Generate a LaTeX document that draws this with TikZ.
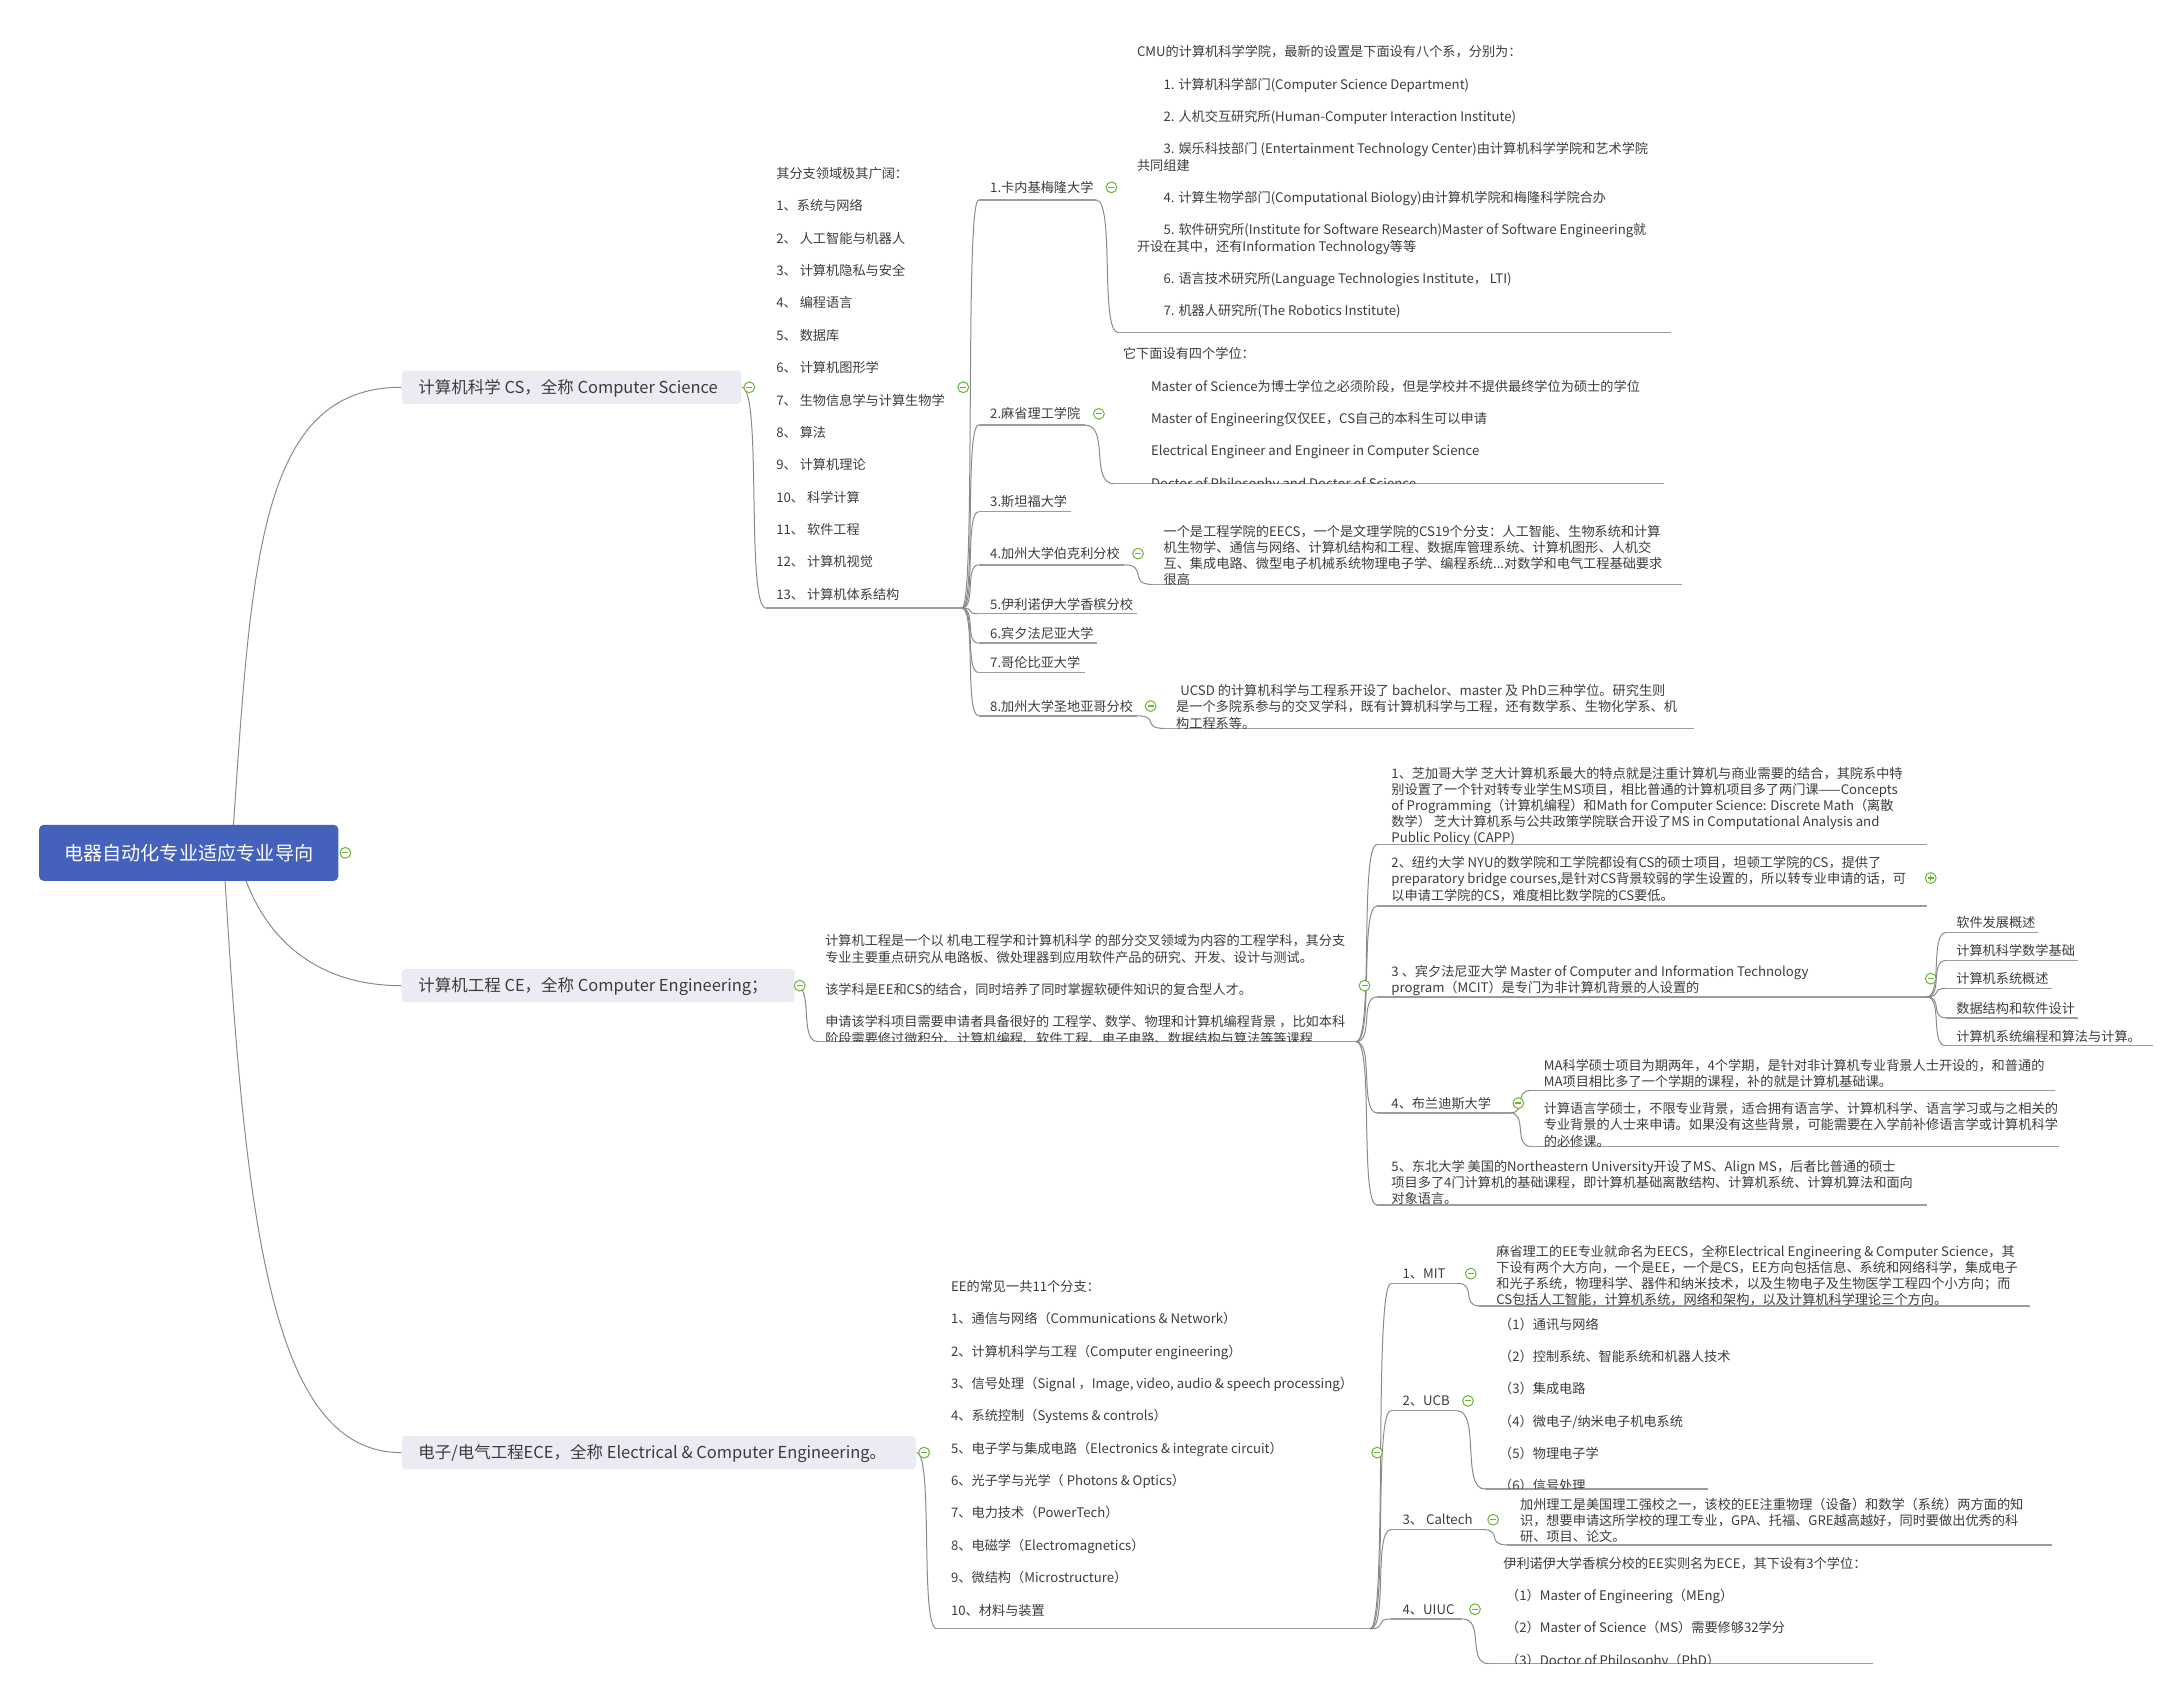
\documentclass[tikz,border=0pt]{standalone}
\usepackage{fontspec}
\newfontfamily\cjk{Noto Sans CJK SC}
\usetikzlibrary{calc}
\definecolor{txtc}{HTML}{3C3C3C}
\definecolor{linec}{HTML}{8A8A8A}
\definecolor{ulc}{HTML}{9C9C9C}
\definecolor{boxc}{HTML}{EBEBF3}
\definecolor{rootc}{HTML}{4461BB}
\definecolor{markc}{HTML}{6AB534}
\tikzset{
  txt/.style={anchor=base west, inner sep=0pt, font=\cjk\fontsize{6.6}{8}\selectfont, text=txtc},
  headtxt/.style={anchor=base west, inner sep=0pt, font=\cjk\fontsize{8.25}{10}\selectfont, text=txtc},
  conline/.style={draw=linec, line width=0.5pt},
  ulline/.style={draw=ulc, line width=0.7pt},
  branchbox/.style={anchor=west, fill=boxc, rounded corners=2pt, inner sep=0pt, minimum height=16.8pt},
  rootbox/.style={fill=rootc, rounded corners=2.2pt, inner sep=0pt, minimum width=149.8pt,
    minimum height=28pt, font=\cjk\fontsize{9.6}{11}\selectfont, text=white,
    text height=8pt, text depth=0.7pt},
  colmark/.style={circle, draw=markc, fill=white, line width=0.5pt, minimum size=5.4pt, inner sep=0pt,
    path picture={\draw[markc, line width=0.6pt] ([xshift=-1.5pt]path picture bounding box.center) -- ([xshift=1.5pt]path picture bounding box.center);}},
  expmark/.style={circle, draw=markc, fill=white, line width=0.5pt, minimum size=5.4pt, inner sep=0pt,
    path picture={\draw[markc, line width=0.6pt] ([xshift=-1.5pt]path picture bounding box.center) -- ([xshift=1.5pt]path picture bounding box.center) ([yshift=-1.5pt]path picture bounding box.center) -- ([yshift=1.5pt]path picture bounding box.center);}},
}
% text block: name, x, y of first line centre, list of dx/dy/{text}
\newcommand\para[4]{%
  \foreach \dx/\dy/\tx [count=\i] in {#4} {%
    \node[txt] (#1-\i) at ({#2+\dx}, {#3+\dy*11.58+3.6}) {\tx};
  }%
}
% underline: name, x1, x2, y
\newcommand\ul[4]{%
  \coordinate (#1-s) at (#2,#4);
  \coordinate (#1-e) at (#3,#4);
  \draw[ulline] (#1-s) -- (#1-e);
}
\newcommand\conn[2]{%
  \draw[conline] let \p1=(#1), \p2=(#2) in (\p1) .. controls ({\x1+0.85*(\x2-\x1)},\y1) and ({\x1+0.15*(\x2-\x1)},\y2) .. (\p2);
}
\begin{document}
\begin{tikzpicture}[x=0.7pt, y=-0.7pt]
\useasboundingbox (0,0) rectangle (1550,1205);

% ---------- main nodes ----------
\node[rootbox] (root) at (135,610) {电器自动化专业适应专业导向};
\node[branchbox, minimum width=170.1pt] (cs) at (287,277) {};
\node[branchbox, minimum width=196.7pt] (ce) at (287,705) {};
\node[branchbox, minimum width=257.6pt] (ee) at (287,1039) {};
\node[headtxt] (cs-t) at (299,281.5) {计算机科学 CS，全称 Computer Science};
\node[headtxt] (ce-t) at (299,709.5) {计算机工程 CE，全称 Computer Engineering；};
\node[headtxt] (ee-t) at (299,1043.5) {电子/电气工程ECE，全称 Electrical \& Computer Engineering。};

\coordinate (r1) at (167,590);
\coordinate (r2) at (176,630);
\coordinate (r3) at (161,630);
\draw[conline] (r1) .. controls (180,400) and (186,277) .. (cs.west);
\draw[conline] (r2) .. controls (195,680) and (235,705) .. (ce.west);
\draw[conline] (r3) .. controls (176,880) and (195,1039) .. (ee.west);

% ---------- underlines ----------
\ul{csl}{548}{688}{435}
\ul{u1}{700}{784}{143}
\ul{u2}{700}{776}{304}
\ul{u3}{700}{766}{366}
\ul{u4}{700}{804}{404}
\ul{u5}{700}{813}{439}
\ul{u6}{700}{785}{460}
\ul{u7}{700}{776}{481}
\ul{u8}{700}{813}{512}
\ul{cmu}{800}{1195}{238}
\ul{mitc}{797}{1190}{346}
\ul{ucbc}{824}{1203}{418}
\ul{ucsdc}{833}{1212}{521}

\ul{cec}{585}{970}{745}
\ul{chi}{985}{1378}{604}
\ul{nyu}{985}{1378}{648}
\ul{penn}{985}{1378}{713}
\ul{bra}{985}{1080}{796}
\ul{neu}{985}{1378}{862}
\ul{p1}{1392}{1458}{667}
\ul{p2}{1392}{1486}{687}
\ul{p3}{1392}{1468}{707}
\ul{p4}{1392}{1486}{728}
\ul{p5}{1392}{1540}{748}
\ul{ma}{1095}{1470}{780}
\ul{cl}{1095}{1473}{820}

\ul{eel}{670}{980}{1165}
\ul{e1}{995}{1043}{918}
\ul{e2}{995}{1042}{1009}
\ul{e3}{995}{1060}{1094}
\ul{e4}{995}{1046}{1158}
\ul{mee}{1058}{1452}{934}
\ul{ucbe}{1062}{1222}{1065}
\ul{calc}{1078}{1468}{1105}
\ul{uiuc}{1065}{1340}{1190}

% ---------- connectors ----------
\conn{cs.east}{csl-s}
\foreach \k in {u1,u2,u3,u4,u5,u6,u7,u8} {\conn{csl-e}{\k-s}}
\conn{u1-e}{cmu-s}
\conn{u2-e}{mitc-s}
\conn{u4-e}{ucbc-s}
\conn{u8-e}{ucsdc-s}

\conn{ce.east}{cec-s}
\foreach \k in {chi,nyu,penn,bra,neu} {\conn{cec-e}{\k-s}}
\foreach \k in {p1,p2,p3,p4,p5} {\conn{penn-e}{\k-s}}
\conn{bra-e}{ma-s}
\conn{bra-e}{cl-s}

\conn{ee.east}{eel-s}
\foreach \k in {e1,e2,e3,e4} {\conn{eel-e}{\k-s}}
\conn{e1-e}{mee-s}
\conn{e2-e}{ucbe-s}
\conn{e3-e}{calc-s}
\conn{e4-e}{uiuc-s}

% ---------- CS texts ----------
\para{csl}{555}{124}{0/0/{其分支领域极其广阔：},0/2/{1、系统与网络},0/4/{2、 人工智能与机器人},0/6/{3、 计算机隐私与安全},0/8/{4、 编程语言},0/10/{5、 数据库},0/12/{6、 计算机图形学},0/14/{7、 生物信息学与计算生物学},0/16/{8、 算法},0/18/{9、 计算机理论},0/20/{10、 科学计算},0/22/{11、 软件工程},0/24/{12、 计算机视觉},0/26/{13、 计算机体系结构}}

\para{u1}{708}{134}{0/0/{1.卡内基梅隆大学}}
\para{u2}{708}{296}{0/0/{2.麻省理工学院}}
\para{u3}{708}{359}{0/0/{3.斯坦福大学}}
\para{u4}{708}{396}{0/0/{4.加州大学伯克利分校}}
\para{u5}{708}{432}{0/0/{5.伊利诺伊大学香槟分校}}
\para{u6}{708}{453}{0/0/{6.宾夕法尼亚大学}}
\para{u7}{708}{474}{0/0/{7.哥伦比亚大学}}
\para{u8}{708}{505}{0/0/{8.加州大学圣地亚哥分校}}

\para{cmu}{813}{37}{0/0/{CMU的计算机科学学院，最新的设置是下面设有八个系，分别为：},19/2/{1. 计算机科学部门(Computer Science Department)},19/4/{2. 人机交互研究所(Human-Computer Interaction Institute)},19/6/{3. 娱乐科技部门 (Entertainment Technology Center)由计算机科学学院和艺术学院},0/7/{共同组建},19/9/{4. 计算生物学部门(Computational Biology)由计算机学院和梅隆科学院合办},19/11/{5. 软件研究所(Institute for Software Research)Master of Software Engineering就},0/12/{开设在其中，还有Information Technology等等},19/14/{6. 语言技术研究所(Language Technologies Institute， LTI)},19/16/{7. 机器人研究所(The Robotics Institute)}}

\begin{scope}
\clip (790,235) rectangle (1220,346);
\para{mitc}{803}{253}{0/0/{它下面设有四个学位：},20/2/{Master of Science为博士学位之必须阶段，但是学校并不提供最终学位为硕士的学位},20/4/{Master of Engineering仅仅EE，CS自己的本科生可以申请},20/6/{Electrical Engineer and Engineer in Computer Science},20/8/{Doctor of Philosophy and Doctor of Science}}
\end{scope}

\begin{scope}
\clip (820,370) rectangle (1230,418);
\para{ucbc}{832}{380}{0/0/{一个是工程学院的EECS，一个是文理学院的CS19个分支：人工智能、生物系统和计算},0/1/{机生物学、通信与网络、计算机结构和工程、数据库管理系统、计算机图形、人机交},0/2/{互、集成电路、微型电子机械系统物理电子学、编程系统...对数学和电气工程基础要求},0/3/{很高}}
\end{scope}

\begin{scope}
\clip (830,484) rectangle (1240,521);
\para{ucsdc}{841}{494}{3/0/{UCSD 的计算机科学与工程系开设了 bachelor、master 及 PhD三种学位。研究生则},0/1/{是一个多院系参与的交叉学科，既有计算机科学与工程，还有数学系、生物化学系、机},0/2/{构工程系等。}}
\end{scope}

% ---------- CE texts ----------
\begin{scope}
\clip (580,660) rectangle (975,745);
\para{cec}{590}{673}{0/0/{计算机工程是一个以 机电工程学和计算机科学 的部分交叉领域为内容的工程学科，其分支},0/1/{专业主要重点研究从电路板、微处理器到应用软件产品的研究、开发、设计与测试。},0/3/{该学科是EE和CS的结合，同时培养了同时掌握软硬件知识的复合型人才。},0/5/{申请该学科项目需要申请者具备很好的 工程学、数学、物理和计算机编程背景 ，比如本科},0/6/{阶段需要修过微积分、计算机编程、软件工程、电子电路、数据结构与算法等等课程}}
\end{scope}

\begin{scope}
\clip (985,540) rectangle (1390,603);
\para{chi}{995}{553}{0/0/{1、芝加哥大学 芝大计算机系最大的特点就是注重计算机与商业需要的结合，其院系中特},0/1/{别设置了一个针对转专业学生MS项目，相比普通的计算机项目多了两门课——Concepts},0/2/{of Programming（计算机编程）和Math for Computer Science: Discrete Math（离散},0/3/{数学） 芝大计算机系与公共政策学院联合开设了MS in Computational Analysis and},0/4/{Public Policy (CAPP)}}
\end{scope}

\begin{scope}
\clip (985,606) rectangle (1390,647);
\para{nyu}{995}{617}{0/0/{2、纽约大学  NYU的数学院和工学院都设有CS的硕士项目，坦顿工学院的CS，提供了},0/1/{preparatory bridge courses,是针对CS背景较弱的学生设置的，所以转专业申请的话，可},0/2/{以申请工学院的CS，难度相比数学院的CS要低。}}
\end{scope}

\para{penn}{995}{695}{0/0/{3 、宾夕法尼亚大学  Master of Computer and Information Technology},0/1/{program（MCIT）是专门为非计算机背景的人设置的}}
\para{p1}{1399}{660}{0/0/{软件发展概述}}
\para{p2}{1399}{680}{0/0/{计算机科学数学基础}}
\para{p3}{1399}{700}{0/0/{计算机系统概述}}
\para{p4}{1399}{721}{0/0/{数据结构和软件设计}}
\para{p5}{1399}{741}{0/0/{计算机系统编程和算法与计算。}}

\para{bra}{995}{789}{0/0/{4、布兰迪斯大学}}
\para{ma}{1104}{762}{0/0/{MA科学硕士项目为期两年，4个学期，是针对非计算机专业背景人士开设的，和普通的},0/1/{MA项目相比多了一个学期的课程，补的就是计算机基础课。}}
\begin{scope}
\clip (1095,783) rectangle (1490,820);
\para{cl}{1104}{793}{0/0/{计算语言学硕士，不限专业背景，适合拥有语言学、计算机科学、语言学习或与之相关的},0/1/{专业背景的人士来申请。如果没有这些背景，可能需要在入学前补修语言学或计算机科学},0/2/{的必修课。}}
\end{scope}

\begin{scope}
\clip (985,823) rectangle (1390,862);
\para{neu}{995}{834}{0/0/{5、东北大学  美国的Northeastern University开设了MS、Align MS，后者比普通的硕士},0/1/{项目多了4门计算机的基础课程，即计算机基础离散结构、计算机系统、计算机算法和面向},0/2/{对象语言。}}
\end{scope}

% ---------- EE texts ----------
\para{eel}{680}{920}{0/0/{EE的常见一共11个分支：},0/2/{1、通信与网络（Communications \& Network）},0/4/{2、计算机科学与工程（Computer engineering）},0/6/{3、信号处理（Signal  ，Image, video, audio \& speech processing）},0/8/{4、系统控制（Systems \& controls）},0/10/{5、电子学与集成电路（Electronics \& integrate circuit）},0/12/{6、光子学与光学（ Photons \& Optics）},0/14/{7、电力技术（PowerTech）},0/16/{8、电磁学（Electromagnetics）},0/18/{9、微结构（Microstructure）},0/20/{10、材料与装置}}

\para{e1}{1003}{911}{0/0/{1、MIT}}
\para{e2}{1003}{1002}{0/0/{2、UCB}}
\para{e3}{1003}{1087}{0/0/{3、 Caltech}}
\para{e4}{1003}{1151}{0/0/{4、UIUC}}

\begin{scope}
\clip (1060,884) rectangle (1470,934);
\para{mee}{1070}{895}{0/0/{麻省理工的EE专业就命名为EECS，全称Electrical Engineering \& Computer Science，其},0/1/{下设有两个大方向，一个是EE，一个是CS，EE方向包括信息、系统和网络科学，集成电子},0/2/{和光子系统，物理科学、器件和纳米技术，以及生物电子及生物医学工程四个小方向；而},0/3/{CS包括人工智能，计算机系统，网络和架构，以及计算机科学理论三个方向。}}
\end{scope}

\begin{scope}
\clip (1062,937) rectangle (1300,1065);
\para{ucbe}{1072}{947}{0/0/{（1）通讯与网络},0/2/{（2）控制系统、智能系统和机器人技术},0/4/{（3）集成电路},0/6/{（4）微电子/纳米电子机电系统},0/8/{（5）物理电子学},0/10/{（6）信号处理}}
\end{scope}

\begin{scope}
\clip (1080,1066) rectangle (1480,1105);
\para{calc}{1087}{1076}{0/0/{加州理工是美国理工强校之一，该校的EE注重物理（设备）和数学（系统）两方面的知},0/1/{识，想要申请这所学校的理工专业，GPA、托福、GRE越高越好，同时要做出优秀的科},0/2/{研、项目、论文。}}
\end{scope}

\begin{scope}
\clip (1065,1108) rectangle (1360,1190);
\para{uiuc}{1075}{1118}{0/0/{伊利诺伊大学香槟分校的EE实则名为ECE，其下设有3个学位：},2/2/{（1）Master of Engineering（MEng）},2/4/{（2）Master of Science（MS）需要修够32学分},2/6/{（3）Doctor of Philosophy（PhD）}}
\end{scope}

% ---------- collapse markers ----------
\node[colmark] (m-root) at (247,610) {};
\node[colmark] (m-cs) at (536,277) {};
\node[colmark] (m-ce) at (572,705) {};
\node[colmark] (m-ee) at (661,1039) {};
\node[colmark] (m-csl) at (689,277) {};
\node[colmark] (m-u1) at (795,134) {};
\node[colmark] (m-u2) at (786,296) {};
\node[colmark] (m-u4) at (814,396) {};
\node[colmark] (m-u8) at (823,505) {};
\node[colmark] (m-cec) at (976,705) {};
\node[expmark] (m-nyu) at (1381,628) {};
\node[colmark] (m-penn) at (1381,700) {};
\node[colmark] (m-bra) at (1086,789) {};
\node[colmark] (m-eel) at (985,1039) {};
\node[colmark] (m-e1) at (1052,911) {};
\node[colmark] (m-e2) at (1050,1002) {};
\node[colmark] (m-e3) at (1068,1087) {};
\node[colmark] (m-e4) at (1055,1151) {};
\end{tikzpicture}
\end{document}
